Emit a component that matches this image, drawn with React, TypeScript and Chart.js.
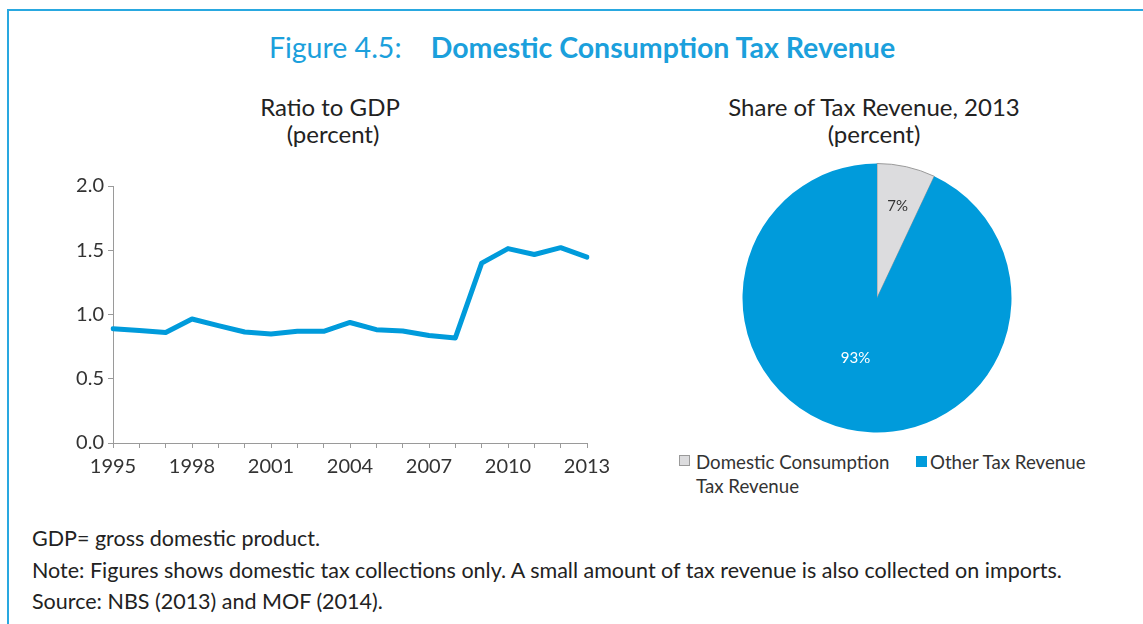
import React, { useEffect, useRef } from "react";
import { Chart, registerables } from "chart.js";

Chart.register(...registerables);

const years = ["1995","1996","1997","1998","1999","2000","2001","2002","2003","2004","2005","2006","2007","2008","2009","2010","2011","2012","2013"];
const ratioToGdp = [0.89,0.875,0.86,0.965,0.913,0.864,0.848,0.869,0.869,0.938,0.882,0.872,0.836,0.818,1.40,1.513,1.467,1.52,1.446];
const yTicks = [0, 0.5, 1.0, 1.5, 2.0];
const pieLabels = ["Domestic Consumption Tax Revenue", "Other Tax Revenue"];
const pieShares = [7, 93];

const BLUE = "#009bdb";
const GREY = "#dcdcde";
const FONT = "Lato, 'Open Sans', sans-serif";

export default function App() {
  const lineRef = useRef<HTMLCanvasElement>(null);
  const pieRef = useRef<HTMLCanvasElement>(null);

  useEffect(() => {
    const line = new Chart(lineRef.current!, {
      type: "line",
      data: {
        labels: years,
        datasets: [{
          data: ratioToGdp,
          borderColor: BLUE,
          borderWidth: 5,
          pointRadius: 0,
          tension: 0,
          borderCapStyle: "round",
          borderJoinStyle: "round",
        }],
      },
      options: {
        animation: false,
        responsive: false,
        layout: { padding: { left: 0, right: 33, top: 13, bottom: 0 } },
        plugins: { legend: { display: false }, tooltip: { enabled: false } },
        scales: {
          x: {
            grid: { drawOnChartArea: false, color: "#9a9a9a", tickLength: 5 },
            border: { color: "#9a9a9a", width: 1 },
            ticks: {
              autoSkip: false,
              maxRotation: 0,
              color: "#333",
              font: { family: FONT, size: 20 },
              padding: 7,
              callback: (v: any, i: number) => ((i % 3 === 0) ? years[i] : ""),
            },
            afterFit: (s: any) => { s.height = 47; },
          },
          y: {
            min: 0,
            max: 2,
            afterBuildTicks: (s: any) => { s.ticks = yTicks.map((v) => ({ value: v })); },
            grid: { drawOnChartArea: false, color: "#9a9a9a", tickLength: 5 },
            border: { color: "#9a9a9a", width: 1 },
            ticks: {
              color: "#333",
              font: { family: FONT, size: 20 },
              padding: 4,
              callback: (v: any) => Number(v).toFixed(1),
            },
            afterFit: (s: any) => { s.width = 73; },
          },
        },
      },
    });

    const pieLabelPlugin = {
      id: "pieLabels",
      afterDatasetsDraw(chart: any) {
        const ctx = chart.ctx;
        const meta = chart.getDatasetMeta(0);
        const fracs = [0.7, 0.46];
        const colors = ["#333", "#ffffff"];
        meta.data.forEach((arc: any, i: number) => {
          const mid = (arc.startAngle + arc.endAngle) / 2;
          const r = arc.outerRadius * fracs[i];
          const x = arc.x + Math.cos(mid) * r;
          const y = arc.y + Math.sin(mid) * r;
          ctx.save();
          ctx.fillStyle = colors[i];
          ctx.font = `15px ${FONT}`;
          ctx.textAlign = "center";
          ctx.textBaseline = "middle";
          ctx.fillText(pieShares[i] + "%", x + (i === 1 ? -8 : 0), y);
          ctx.restore();
        });
      },
    };

    const pie = new Chart(pieRef.current!, {
      type: "pie",
      data: {
        labels: pieLabels,
        datasets: [{
          data: pieShares,
          backgroundColor: [GREY, BLUE],
          borderColor: ["#9a9a9a", BLUE],
          borderWidth: [1, 0],
        }],
      },
      options: {
        animation: false,
        responsive: false,
        layout: { padding: 5 },
        plugins: { legend: { display: false }, tooltip: { enabled: false } },
      },
      plugins: [pieLabelPlugin],
    });

    return () => { line.destroy(); pie.destroy(); };
  }, []);

  const abs = (x: number, y: number, extra: React.CSSProperties = {}): React.CSSProperties => ({
    position: "absolute", left: x, top: y, ...extra,
  });

  return (
    <div style={{ position: "fixed", left: 0, top: 0, width: 1143, height: 624, background: "#fff", fontFamily: FONT, color: "#222", overflow: "hidden" }}>
      <div style={abs(7, 9, { width: 1136, height: 2, background: "#29a8e0" })} />
      <div style={abs(7, 9, { width: 2, height: 620, background: "#29a8e0" })} />

      <div style={abs(0, 29, { width: 1164, textAlign: "center", fontSize: 28.5, lineHeight: "36px", color: "#1ba0dc", whiteSpace: "pre" })}>
        <span>Figure 4.5:</span><span>{"    "}</span><span style={{ fontWeight: 700 }}>Domestic Consumption Tax Revenue</span>
      </div>

      <div style={abs(130, 93, { width: 400, textAlign: "center", fontSize: 24, lineHeight: "27px" })}>
        Ratio to GDP<br />
        <span style={{ marginLeft: 6 }}>(percent)</span>
      </div>
      <div style={abs(674, 93, { width: 400, textAlign: "center", fontSize: 24, lineHeight: "27px" })}>
        Share of Tax Revenue, 2013<br />
        (percent)
      </div>

      <canvas ref={lineRef} width={580} height={320} style={abs(40, 170, { width: 580, height: 320 })} />
      <canvas ref={pieRef} width={280} height={280} style={abs(737, 158, { width: 280, height: 280 })} />

      <div style={abs(679, 455, { width: 11, height: 11, background: GREY, border: "1px solid #9a9a9a", boxSizing: "border-box" })} />
      <div style={abs(696, 450, { fontSize: 18.7, lineHeight: "24px", color: "#333" })}>
        Domestic Consumption<br />Tax Revenue
      </div>
      <div style={abs(916, 456, { width: 11, height: 11, background: BLUE })} />
      <div style={abs(930, 450, { fontSize: 18.7, lineHeight: "24px", color: "#333" })}>
        Other Tax Revenue
      </div>

      <div style={abs(32, 523, { fontSize: 21.5, lineHeight: "31.5px", color: "#222" })}>
        GDP= gross domestic product.<br />
        Note: Figures shows domestic tax collections only. A small amount of tax revenue is also collected on imports.<br />
        Source: NBS (2013) and MOF (2014).
      </div>
    </div>
  );
}
